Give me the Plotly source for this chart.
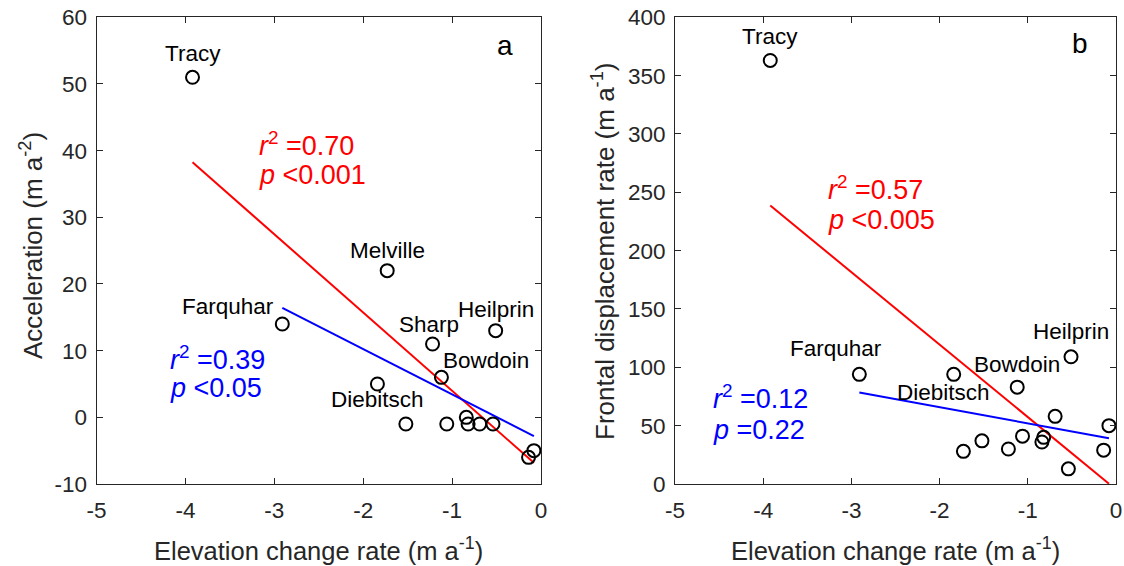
import numpy as np
import plotly.graph_objects as go
from plotly.subplots import make_subplots

# Glacier observations (elevation change rate vs. acceleration / frontal displacement)
elev_rate = [-3.92, -2.91, -1.84, -1.73, -1.52, -1.22, -1.12, -1.06,
             -0.84, -0.82, -0.69, -0.54, -0.51, -0.14, -0.08]
acceleration = [51, 14, 5, 22, -1, 11, 6, -1, 0, -1, -1, -1, 13, -6, -5]
frontal_rate = [363, 94, 94, 28, 37, 30, 83, 41, 36, 40, 58, 13, 109, 29, 50]
glacier_names = ["Tracy", "Farquhar", "Diebitsch", "Melville", "", "Sharp", "Bowdoin", "",
                 "", "", "", "", "Heilprin", "", ""]

stats_a = {"all": ("0.70", "<0.001"), "sub": ("0.39", "<0.05")}
stats_b = {"all": ("0.57", "<0.005"), "sub": ("0.12", "=0.22")}

x_ticks = [-5, -4, -3, -2, -1, 0]
ya_ticks = [-10, 0, 10, 20, 30, 40, 50, 60]
yb_ticks = [0, 50, 100, 150, 200, 250, 300, 350, 400]

FONT = "Liberation Sans, Arial, sans-serif"
AXC = "#262626"
W, H = 1124, 566

fig = make_subplots(rows=1, cols=2)

x = np.array(elev_rate)


def add_panel(col, yvals):
    y = np.array(yvals)
    # regression over all glaciers
    p_all = np.polyfit(x, y, 1)
    xs = np.array([x.min(), x.max()])
    fig.add_trace(go.Scatter(x=xs, y=np.polyval(p_all, xs), mode="lines",
                             line=dict(color="#ff0000", width=2), showlegend=False,
                             hoverinfo="skip"), row=1, col=col)
    # regression excluding Tracy
    xm, ym = x[1:], y[1:]
    p_sub = np.polyfit(xm, ym, 1)
    xs2 = np.array([xm.min(), xm.max()])
    fig.add_trace(go.Scatter(x=xs2, y=np.polyval(p_sub, xs2), mode="lines",
                             line=dict(color="#0000ff", width=2), showlegend=False,
                             hoverinfo="skip"), row=1, col=col)
    fig.add_trace(go.Scatter(x=x, y=y, mode="markers",
                             marker=dict(symbol="circle-open", size=13, color="black",
                                         line=dict(width=2, color="black")),
                             showlegend=False), row=1, col=col)


add_panel(1, acceleration)
add_panel(2, frontal_rate)

axis_common = dict(showline=True, linecolor=AXC, linewidth=1, mirror="ticks",
                   ticks="inside", ticklen=6, tickcolor=AXC, tickwidth=1,
                   showgrid=False, zeroline=False, automargin=False,
                   tickfont=dict(family=FONT, size=22.5, color=AXC))

xl = (96.5 / W, 541 / W)
xr = (675 / W, 1116 / W)
yd = ((H - 484) / H, (H - 17.3) / H)


def tick_text(vals):
    return [str(v) for v in vals]


fig.update_layout(
    xaxis=dict(domain=xl, range=[-5, 0], tickvals=x_ticks, ticktext=tick_text(x_ticks),
               ticklabelstandoff=6, **axis_common),
    xaxis2=dict(domain=xr, range=[-5, 0], tickvals=x_ticks, ticktext=tick_text(x_ticks),
                ticklabelstandoff=6, **axis_common),
    yaxis=dict(domain=yd, range=[-10, 60], tickvals=ya_ticks, ticktext=tick_text(ya_ticks),
               ticklabelstandoff=4, **axis_common),
    yaxis2=dict(domain=yd, range=[0, 400], tickvals=yb_ticks, ticktext=tick_text(yb_ticks),
                ticklabelstandoff=4, **axis_common),
)

ann = []


def label(xref, yref, xv, yv, text, dx=0, dy=0, xanchor="center", size=22.5, color="black"):
    ann.append(dict(x=xv, y=yv, xref=xref, yref=yref, text=text, showarrow=False,
                    xanchor=xanchor, yanchor="middle", xshift=dx, yshift=dy,
                    font=dict(family=FONT, size=size, color=color)))


# glacier name labels, offsets in pixels
offs_a = {"Tracy": (0, 24, "center"), "Farquhar": (-6, 17, "right"),
          "Diebitsch": (0, -16, "center"), "Melville": (0, 20, "center"),
          "Sharp": (-4, 19, "center"), "Bowdoin": (0, 17, "left"),
          "Heilprin": (0, 21, "center")}
offs_b = {"Tracy": (0, 24, "center"), "Farquhar": (-23, 26, "center"),
          "Diebitsch": (-10, -18, "center"), "Bowdoin": (0, 23, "center"),
          "Heilprin": (0, 25, "center")}

for i, nm in enumerate(glacier_names):
    if nm in offs_a:
        dx, dy, xa = offs_a[nm]
        label("x", "y", elev_rate[i], acceleration[i], nm, dx, dy, xa)
    if nm in offs_b:
        dx, dy, xa = offs_b[nm]
        label("x2", "y2", elev_rate[i], frontal_rate[i], nm, dx, dy, xa)


# regression statistics
def stat(xref, yref, xv, y1, y2, r2, p, color):
    label(xref, yref, xv, y1, f"<i>r</i><sup>2</sup> ={r2}", xanchor="left", size=27, color=color)
    label(xref, yref, xv, y2, f"<i>p</i> {p}", xanchor="left", size=27, color=color)


stat("x", "y", -3.20, 40.95, 36.3, *stats_a["all"], "#ff0000")
stat("x", "y", -4.20, 8.9, 4.35, *stats_a["sub"], "#0000ff")
stat("x2", "y2", -3.29, 253.8, 226.6, *stats_b["all"], "#ff0000")
stat("x2", "y2", -4.59, 74.3, 46.5, *stats_b["sub"], "#0000ff")

# panel letters
label("x", "y", -0.41, 55.8, "a", size=28)
label("x2", "y2", -0.41, 377.6, "b", size=28)


# axis titles
def title(xp, yp, text, angle=0, size=26):
    ann.append(dict(x=xp, y=yp, xref="paper", yref="paper", text=text, showarrow=False,
                    xanchor="center", yanchor="middle", textangle=angle,
                    font=dict(family=FONT, size=size, color=AXC)))


title((xl[0] + xl[1]) / 2, (H - 548.5) / H, "Elevation change rate (m a<sup>-1</sup>)", size=25.5)
title((xr[0] + xr[1]) / 2, (H - 548.5) / H, "Elevation change rate (m a<sup>-1</sup>)", size=25.5)
title(31 / W, (H - 246) / H, "Acceleration (m a<sup>-2</sup>)", -90)
title(603 / W, (H - 252) / H, "Frontal displacement rate (m a<sup>-1</sup>)", -90)

fig.update_layout(annotations=ann, width=W, height=H,
                  margin=dict(l=0, r=0, t=0, b=0, autoexpand=False),
                  paper_bgcolor="white", plot_bgcolor="white",
                  font=dict(family=FONT))

fig.write_html("out.html")
